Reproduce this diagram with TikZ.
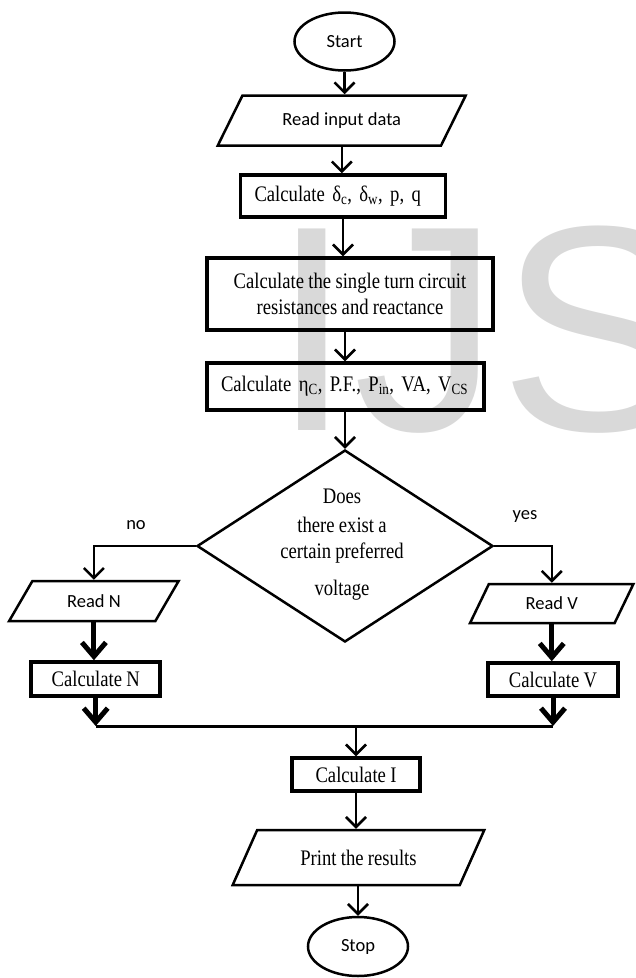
\documentclass[tikz,border=0pt]{standalone}
\usepackage{fontspec}
\usetikzlibrary{shapes.geometric}
\usetikzlibrary{arrows.meta}
\newfontfamily\flowsans{Carlito}
\newfontfamily\flowserif[FakeStretch=0.84,WordSpace=0.92]{Liberation Serif}
\newfontfamily\markfont{Liberation Sans}

\tikzset{
  sanstext/.style={font=\flowsans\fontsize{18.5}{22}\selectfont},
  seriftext/.style={font=\flowserif\fontsize{22.2}{26}\selectfont},
  terminal/.style={draw, ellipse, line width=2.5pt, minimum width=100, minimum height=58, inner sep=0pt, sanstext},
  inout/.style={draw, trapezium, trapezium stretches=true, line width=2.5pt, inner sep=0pt, sanstext},
  procbox/.style={draw, rectangle, line width=3.5pt, inner sep=0pt, seriftext},
  decision/.style={draw, diamond, line width=2.5pt, inner sep=0pt},
  flowarrow/.style={line width=2.5pt, -{Straight Barb[length=10pt,width=20pt]}},
  boldarrow/.style={line width=5pt, -{Straight Barb[length=14pt,width=24pt]}}
}

\begin{document}
\begin{tikzpicture}[x=1pt, y=-1pt]
\useasboundingbox (0,0) rectangle (636,978);
\clip (0,0) rectangle (636,978);

% watermark
\node[anchor=base west, inner sep=0pt, text=black!15, font=\markfont\fontsize{293}{293}\selectfont] (mark) at (271.5,430) {IJS};

% main column
\node[terminal] (start) at (344.5,41.5) {Start};
\node[inout, trapezium left angle=47, trapezium right angle=133, minimum width=248, minimum height=50] (readin) at (341.75,120.5) {Read input data};
\node[procbox, text width=177, align=left, inner xsep=14pt, minimum height=42] (calcd) at (343,196) {Calculate δ\textsubscript{c}, δ\textsubscript{w}, p, q};
\node[procbox, align=center, minimum width=286, minimum height=72] (calcres) at (350,294) {Calculate the single turn circuit\\resistances and reactance};
\node[procbox, text width=249, align=left, inner xsep=14pt, minimum height=47] (calceta) at (345.5,386.5) {Calculate η\textsubscript{C}, P.F., P\textsubscript{in}, VA, V\textsubscript{CS}};
\node[decision, minimum width=296, minimum height=192] (dec) at (345,546) {};
\node[seriftext, align=center] (dectext) at (342,545) {Does\\[3pt]there exist a\\certain preferred\\[11pt]voltage};

% branches
\node[sanstext] (nolabel) at (136,525) {no};
\node[sanstext] (yeslabel) at (525,516) {yes};
\node[inout, trapezium left angle=52, trapezium right angle=128, minimum width=170, minimum height=40] (readN) at (93.9,601) {Read N};
\node[procbox, minimum width=129, minimum height=34] (calcN) at (95.7,679) {Calculate N};
\node[inout, trapezium left angle=59, trapezium right angle=121, minimum width=164, minimum height=39] (readV) at (551.75,603.5) {Read V};
\node[procbox, minimum width=130, minimum height=33] (calcV) at (553,679.5) {Calculate V};

% bottom
\node[procbox, minimum width=128, minimum height=33] (calcI) at (356,774.5) {Calculate I};
\node[inout, seriftext, trapezium left angle=48, trapezium right angle=132, minimum width=252, minimum height=55] (print) at (358.5,857.5) {Print the results};
\node[terminal, minimum height=59] (stop) at (358,946.5) {Stop};

\draw[flowarrow] (start.south) -- (start.south |- readin.north);
\draw[flowarrow] (readin.south) -- (readin.south |- calcd.north);
\draw[flowarrow] (calcd.south) -- (calcd.south |- calcres.north);
\draw[flowarrow] (calcres.south -| dec.north) -- (calceta.north -| dec.north);
\draw[flowarrow] (calceta.south -| dec.north) -- (dec.north);
\draw[flowarrow] (dec.west) -| (readN.north);
\draw[flowarrow] (dec.east) -| (readV.north);
\draw[boldarrow] (readN.south) -- (readN.south |- calcN.north);
\draw[boldarrow] (readV.south) -- (readV.south |- calcV.north);

\coordinate (joinL) at (calcN.south |- 0,726);
\coordinate (joinR) at (calcV.south |- joinL);
\coordinate (joinC) at (calcI.north |- joinL);
\draw[boldarrow] (calcN.south) -- (joinL);
\draw[boldarrow] (calcV.south) -- (joinR);
\draw[line width=3pt] (joinL) -- (joinR);
\draw[flowarrow] (joinC) -- (calcI.north);
\draw[flowarrow] (calcI.south) -- (calcI.south |- print.north);
\draw[flowarrow] (print.south -| stop.north) -- (stop.north);
\end{tikzpicture}
\end{document}
